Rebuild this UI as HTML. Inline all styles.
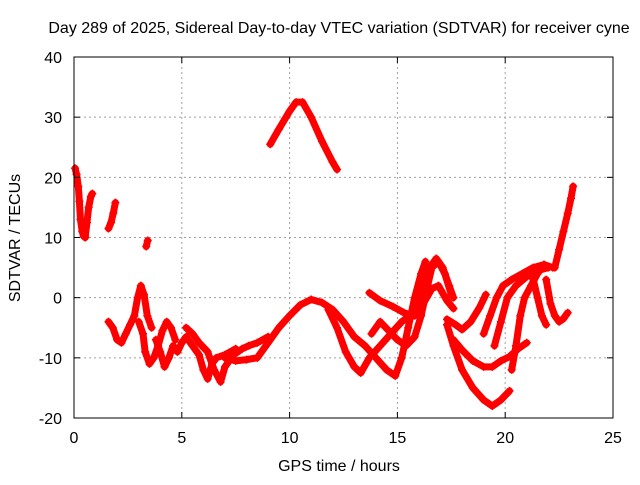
<!DOCTYPE html>
<html><head><meta charset="utf-8"><style>
body{margin:0;background:#fff;width:640px;height:480px;overflow:hidden}
svg text{font-family:"Liberation Sans",sans-serif;font-size:16px;fill:#000}
</style></head><body>
<svg id="chart" width="640" height="480" xmlns="http://www.w3.org/2000/svg">
<rect width="640" height="480" fill="#fff"/>
<text x="339" y="33" text-anchor="middle">Day 289 of 2025, Sidereal Day-to-day VTEC variation (SDTVAR) for receiver cyne</text>
<g id="grid"></g>
<g id="series"></g>
<g id="axes"></g>
<text x="339" y="471" text-anchor="middle">GPS time / hours</text>
<text transform="translate(20,238) rotate(-90)" text-anchor="middle">SDTVAR / TECUs</text>
</svg>
<script>
const xTicks=[0,5,10,15,20,25];
const yTicks=[-20,-10,0,10,20,30,40];
const t1=[[0.05,21.5],[0.12,20.5],[0.2,18.5],[0.25,16],[0.3,13],[0.38,11],[0.45,10.2],[0.52,10]];
const t2=[[0.52,10],[0.6,12.5],[0.68,15],[0.78,16.8],[0.85,17.3]];
const t3=[[1.6,11.5],[1.72,12.5],[1.82,14],[1.92,15.8]];
const t4=[[3.35,8.5],[3.42,9.5]];
const t5=[[1.6,-4],[1.8,-5],[2.0,-7],[2.2,-7.5],[2.4,-6],[2.6,-4.5],[2.8,-3],[2.95,0],[3.1,2],[3.25,0.5],[3.4,-3],[3.6,-5]];
const t6=[[3.0,-4],[3.2,-6],[3.3,-9],[3.5,-11],[3.7,-10],[3.9,-8],[4.1,-5.5],[4.3,-4],[4.5,-5],[4.7,-7]];
const t7=[[3.8,-7],[4.0,-9],[4.2,-11.5],[4.4,-10],[4.6,-8],[4.8,-9],[5.0,-7.5],[5.2,-6.5],[5.5,-8],[5.8,-9.5],[6.0,-12],[6.2,-13.5],[6.4,-11],[6.6,-10],[7.0,-9.5],[7.5,-8.5]];
const t8=[[5.2,-5],[5.5,-6],[5.8,-7.5],[6.2,-9],[6.5,-12],[6.8,-14],[7.0,-11.5],[7.4,-9.5],[7.8,-8.5],[8.1,-8],[8.5,-7.5],[9.0,-6.5]];
const t9=[[7.0,-10],[7.5,-10.5],[8.0,-10.3],[8.5,-10],[9.0,-7.5],[9.5,-5],[10.0,-3],[10.5,-1.2],[11.0,-0.3],[11.5,-0.8],[12.0,-2],[12.5,-4],[13.0,-6.5],[13.5,-8],[14.0,-10],[14.5,-12],[14.9,-13],[15.2,-10],[15.5,-5],[15.8,0],[16.1,4],[16.3,6]];
const t10=[[11.8,-2],[12.2,-5],[12.6,-9],[13.0,-11.5],[13.3,-12.5],[13.7,-10],[14.2,-8],[14.7,-6],[15.2,-4],[15.6,-3],[15.9,-1],[16.2,2],[16.5,5],[16.8,6.5],[17.1,5],[17.4,2],[17.6,0]];
const t11=[[13.8,-6],[14.2,-4],[14.6,-5.5],[15.0,-7],[15.4,-8],[15.8,-6.5],[16.1,-3],[16.4,2],[16.6,5],[16.9,6],[17.2,4],[17.5,0.5]];
const t12=[[13.7,0.8],[14.2,-0.5],[14.8,-1.5],[15.3,-2.5],[15.8,-3],[16.2,-1],[16.6,1.5],[16.9,2],[17.3,-0.5],[17.6,-1.8]];
const t13=[[17.3,-3.6],[17.7,-4.5],[18.0,-5.3],[18.4,-4],[18.8,-1.7],[19.1,0.5]];
const t14=[[17.3,-4.5],[17.6,-8],[18.0,-12],[18.5,-15],[19.0,-17],[19.4,-18],[19.8,-17],[20.2,-15.5]];
const t15=[[17.6,-7],[18.0,-8.7],[18.5,-10.5],[19.0,-11.5],[19.4,-11.5],[19.8,-10.5],[20.2,-9.8],[20.6,-8.5],[21.0,-7.5]];
const t16=[[19.0,-6],[19.3,-3],[19.6,0],[19.9,2],[20.3,3],[20.8,4],[21.3,5],[21.8,5.5],[22.2,5]];
const t17=[[19.5,-8],[19.8,-4],[20.1,0],[20.5,2],[21.0,3.5],[21.5,4.5],[22.0,5]];
const t18=[[20.3,-12],[20.5,-8],[20.7,-3],[20.9,0],[21.2,2],[21.5,4],[21.8,5.5]];
const t19=[[21.3,3],[21.5,0],[21.7,-3],[21.9,-4.5]];
const t20=[[21.9,3],[22.1,-1],[22.3,-3],[22.5,-4],[22.7,-3.5],[22.9,-2.5]];
const t21=[[22.3,5],[22.5,8],[22.7,11],[22.9,14],[23.05,16.5],[23.15,18.5]];
const t22=[[9.1,25.5],[9.5,28],[10.0,31],[10.3,32.5],[10.6,32.5],[11.0,30],[11.5,26],[12.0,22.5],[12.2,21.3]];
const tracks=[t1,t2,t3,t4,t5,t6,t7,t8,t9,t10,t11,t12,t13,t14,t15,t16,t17,t18,t19,t20,t21,t22];
const NS='http://www.w3.org/2000/svg';
const X0=74,X1=613,Y0=418,Y1=57;
function xs(h){return X0+(h-0)/(25-0)*(X1-X0);}
function ys(v){return Y0-(v+20)/60*(Y0-Y1);}
function mk(tag,attrs,parent){const e=document.createElementNS(NS,tag);for(const k in attrs)e.setAttribute(k,attrs[k]);parent.appendChild(e);return e;}
const grid=document.getElementById('grid'),axes=document.getElementById('axes'),ser=document.getElementById('series');
xTicks.forEach(t=>{
 if(t>0&&t<25){const g=mk('line',{x1:xs(t),x2:xs(t),y1:Y1,y2:Y0,stroke:'#a0a0a0','stroke-dasharray':'2,3'},grid);
 
 }
 mk('line',{x1:xs(t),x2:xs(t),y1:Y0,y2:Y0-6,stroke:'#000'},axes);
 mk('line',{x1:xs(t),x2:xs(t),y1:Y1,y2:Y1+6,stroke:'#000'},axes);
 const l=mk('text',{x:xs(t),y:Y0+25,'text-anchor':'middle'},axes);l.textContent=t;
 
 
});
yTicks.forEach(t=>{
 if(t>-20&&t<40){const g=mk('line',{x1:X0,x2:X1,y1:ys(t),y2:ys(t),stroke:'#a0a0a0','stroke-dasharray':'2,3'},grid);
 
 }
 mk('line',{x1:X0,x2:X0+6,y1:ys(t),y2:ys(t),stroke:'#000'},axes);
 mk('line',{x1:X1,x2:X1-6,y1:ys(t),y2:ys(t),stroke:'#000'},axes);
 const l=mk('text',{x:X0-12,y:ys(t)+6,'text-anchor':'end'},axes);l.textContent=t;
 
 
});
mk('rect',{x:X0,y:Y1,width:X1-X0,height:Y0-Y1,fill:'none',stroke:'#000'},axes);
tracks.forEach(tr=>{
 const p=mk('polyline',{points:tr.map(d=>xs(d[0])+','+ys(d[1])).join(' '),fill:'none',stroke:'#f00','stroke-width':7,'stroke-linejoin':'round','stroke-linecap':'round'},ser);
 
 
 tr.forEach(d=>{
  const m=mk('path',{d:`M${xs(d[0])-4},${ys(d[1])}h8M${xs(d[0])},${ys(d[1])-4}v8`,stroke:'#f00','stroke-width':1.5},ser);
  
  
 });
});
</script>
</body></html>
